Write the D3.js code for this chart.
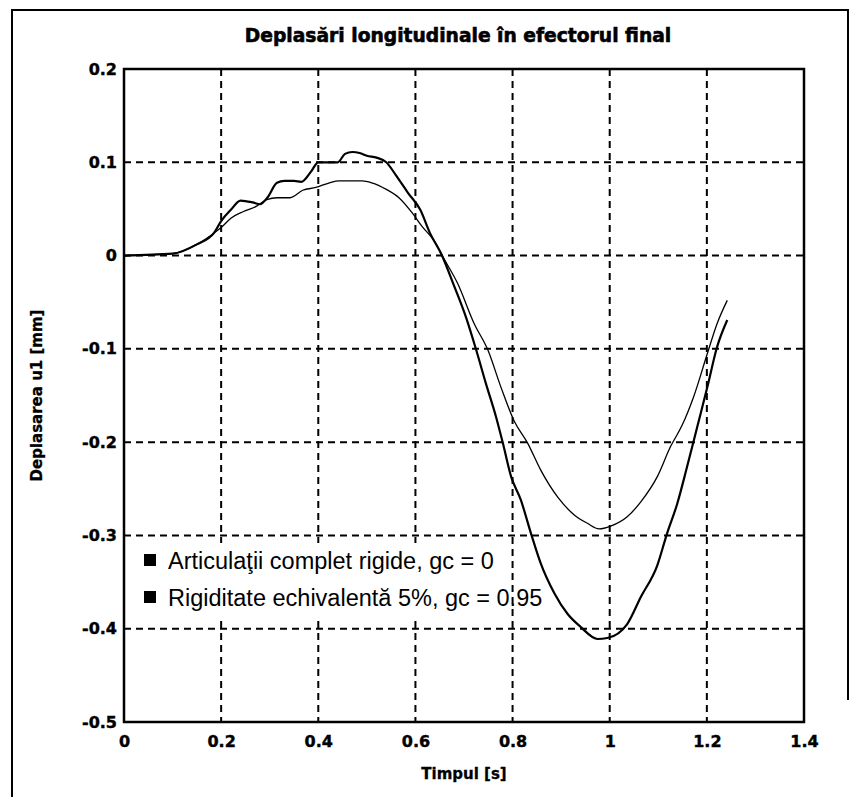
<!DOCTYPE html>
<html>
<head>
<meta charset="utf-8">
<script src="https://cdn.jsdelivr.net/npm/d3@7/dist/d3.min.js"></script>
<style>
  body { margin: 0; background: #fff; }
  svg { display: block; }
</style>
</head>
<body>
<div id="chart"></div>
<script>
// values
var timeA = [0, 0.10, 0.15, 0.185, 0.20, 0.22, 0.24, 0.265, 0.28, 0.295, 0.315, 0.33, 0.35, 0.365, 0.385, 0.40, 0.42, 0.44, 0.455, 0.47, 0.485, 0.50, 0.52, 0.54, 0.56, 0.585, 0.61, 0.63, 0.653, 0.68, 0.704, 0.725, 0.745, 0.766, 0.78, 0.797, 0.817, 0.838, 0.858, 0.886, 0.913, 0.94, 0.975, 0.995, 1.036, 1.064, 1.098, 1.118, 1.139, 1.159, 1.18, 1.201, 1.221, 1.242]
var dispA = [0, 0.002, 0.012, 0.024, 0.037, 0.049, 0.059, 0.057, 0.055, 0.062, 0.078, 0.080, 0.080, 0.079, 0.090, 0.100, 0.100, 0.100, 0.109, 0.111, 0.110, 0.107, 0.105, 0.100, 0.086, 0.067, 0.049, 0.024, 0.002, -0.033, -0.066, -0.101, -0.137, -0.173, -0.201, -0.237, -0.262, -0.298, -0.330, -0.362, -0.384, -0.398, -0.411, -0.410, -0.395, -0.366, -0.332, -0.298, -0.266, -0.227, -0.184, -0.141, -0.098, -0.069]

var timeB = [0, 0.10, 0.15, 0.185, 0.20, 0.22, 0.245, 0.273, 0.294, 0.315, 0.342, 0.368, 0.395, 0.423, 0.443, 0.49, 0.51, 0.54, 0.566, 0.593, 0.614, 0.641, 0.653, 0.687, 0.721, 0.749, 0.776, 0.803, 0.831, 0.858, 0.893, 0.927, 0.954, 0.978, 1.002, 1.036, 1.064, 1.098, 1.125, 1.149, 1.173, 1.201, 1.221, 1.242]
var dispB = [0, 0.002, 0.012, 0.024, 0.030, 0.040, 0.047, 0.053, 0.060, 0.062, 0.062, 0.070, 0.073, 0.078, 0.080, 0.080, 0.078, 0.071, 0.062, 0.046, 0.031, 0.014, 0.002, -0.030, -0.073, -0.101, -0.141, -0.177, -0.201, -0.230, -0.259, -0.278, -0.287, -0.293, -0.290, -0.280, -0.264, -0.237, -0.205, -0.182, -0.151, -0.105, -0.073, -0.048]

var xTicks = [0, 0.2, 0.4, 0.6, 0.8, 1, 1.2, 1.4]
var xTickLabels = ["0", "0.2", "0.4", "0.6", "0.8", "1", "1.2", "1.4"]
var yTicks = [0.2, 0.1, 0, -0.1, -0.2, -0.3, -0.4, -0.5]
var yTickLabels = ["0.2", "0.1", "0", "-0.1", "-0.2", "-0.3", "-0.4", "-0.5"]

var legendNames = ["Articulaţii complet rigide, gc = 0", "Rigiditate echivalentă 5%, gc = 0.95"]
var titleText = "Deplasări longitudinale în efectorul final"
var xLabel = "Timpul [s]"
var yLabel = "Deplasarea u1 [mm]"

var W = 862, H = 797
var plotL = 124, plotR = 804, plotT = 69, plotB = 722

var svg = d3.select("#chart").append("svg").attr("width", W).attr("height", H)

// page frame of the scan
svg.append("path")
  .attr("d", "M12,797 L12,10 L848,10 L848,700")
  .attr("fill", "none").attr("stroke", "#000").attr("stroke-width", 2)

var xs = d3.scaleLinear().domain([0, 1.4]).range([plotL, plotR])
var ys = d3.scaleLinear().domain([-0.5, 0.2]).range([plotB, plotT])

var boldFont = "'DejaVu Sans', sans-serif"

// grid
var grid = svg.append("g").attr("stroke", "#000").attr("stroke-width", 2).attr("stroke-dasharray", "7,5")
grid.selectAll(".vg").data(xTicks.slice(1, -1)).enter().append("line")
  .attr("x1", d => xs(d)).attr("x2", d => xs(d)).attr("y1", plotT).attr("y2", plotB)
grid.selectAll(".hg").data(yTicks.slice(1, -1)).enter().append("line")
  .attr("x1", plotL).attr("x2", plotR).attr("y1", d => ys(d)).attr("y2", d => ys(d))

// legend background hides the grid behind it
svg.append("rect").attr("x", 134).attr("y", 543).attr("width", 366).attr("height", 78).attr("fill", "#fff")

// curves
var line = d3.line().x(d => xs(d[0])).y(d => ys(d[1])).curve(d3.curveMonotoneX)
svg.append("path").datum(d3.zip(timeB, dispB))
  .attr("d", line).attr("fill", "none").attr("stroke", "#000").attr("stroke-width", 1.3)
svg.append("path").datum(d3.zip(timeA, dispA))
  .attr("d", line).attr("fill", "none").attr("stroke", "#000").attr("stroke-width", 2.2)

// axes box
svg.append("rect").attr("x", plotL).attr("y", plotT).attr("width", plotR - plotL).attr("height", plotB - plotT)
  .attr("fill", "none").attr("stroke", "#000").attr("stroke-width", 2.5)

var xAxis = d3.axisBottom(xs).tickValues(xTicks).tickSize(0).tickPadding(14).tickFormat((d, i) => xTickLabels[i])
var gx = svg.append("g").attr("transform", "translate(0," + plotB + ")").call(xAxis)
var yAxis = d3.axisLeft(ys).tickValues(yTicks).tickSize(0).tickPadding(7).tickFormat((d, i) => yTickLabels[i])
var gy = svg.append("g").attr("transform", "translate(" + plotL + ",0)").call(yAxis)
gx.select(".domain").remove()
gy.select(".domain").remove()
svg.selectAll(".tick text").attr("font-family", boldFont).attr("font-weight", "bold").attr("font-size", 16)
  .attr("fill", "#000").attr("stroke", "#000").attr("stroke-width", 0.4)

// titles
svg.append("text").attr("x", 458).attr("y", 42).attr("text-anchor", "middle")
  .attr("font-family", boldFont).attr("font-weight", "bold").attr("font-size", 18.7)
  .attr("stroke", "#000").attr("stroke-width", 0.6).text(titleText)
svg.append("text").attr("x", (plotL + plotR) / 2).attr("y", 779).attr("text-anchor", "middle")
  .attr("font-family", boldFont).attr("font-weight", "bold").attr("font-size", 15)
  .attr("stroke", "#000").attr("stroke-width", 0.3).text(xLabel)
svg.append("text").attr("transform", "translate(42," + (plotT + plotB) / 2 + ") rotate(-90)").attr("text-anchor", "middle")
  .attr("font-family", boldFont).attr("font-weight", "bold").attr("font-size", 15)
  .attr("stroke", "#000").attr("stroke-width", 0.3).text(yLabel)

// legend
var legend = svg.append("g").selectAll("g").data(legendNames).enter().append("g")
  .attr("transform", (d, i) => "translate(144," + (560 + i * 37) + ")")
legend.append("rect").attr("x", 0).attr("y", -6).attr("width", 12).attr("height", 12).attr("fill", "#000")
legend.append("text").attr("x", 24).attr("y", 8.5)
  .attr("font-family", "'Liberation Sans', Arial, sans-serif").attr("font-size", 23.5).text(d => d)
</script>
</body>
</html>
